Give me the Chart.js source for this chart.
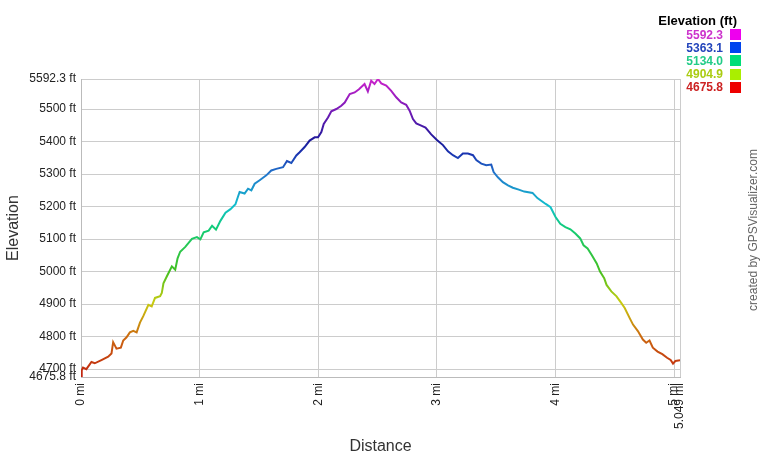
<!DOCTYPE html>
<html>
<head>
<meta charset="utf-8">
<script src="https://cdn.jsdelivr.net/npm/chart.js@4/dist/chart.umd.min.js"></script>
<style>
  body { margin: 0; background: #fff; }
  #wrap { position: relative; width: 760px; height: 460px; font-family: Arial, "Liberation Sans", sans-serif; }
  #chart { position: absolute; left: 0; top: 0; }
  #legend { position: absolute; right: 19px; top: 13px; text-align: right; }
  #legend .title { font: bold 13px Arial, "Liberation Sans", sans-serif; color: #000; line-height: 16px; padding-right: 4px; margin-bottom: -1px; }
  #legend .row { display: flex; justify-content: flex-end; align-items: center; height: 13.2px; font: bold 12px Arial, "Liberation Sans", sans-serif; }
  #legend .box { width: 11px; height: 11px; margin-left: 7px; }
  #credit { position: absolute; left: 653px; top: 223px; width: 200px; height: 14px; line-height: 14px; text-align: center;
            font: 12px Arial, "Liberation Sans", sans-serif; color: #666; transform: rotate(-90deg); white-space: nowrap; }
</style>
</head>
<body>
<div id="wrap">
  <canvas id="chart" width="760" height="460"></canvas>
  <div id="legend"></div>
  <div id="credit">created by GPSVisualizer.com</div>
</div>
<script>
// profile: distance in miles, elevation in feet
const distanceMi = [
  0, 0.006, 0.017, 0.045, 0.088, 0.116, 0.172, 0.229, 0.257, 0.271, 0.299, 0.336, 0.356, 0.384, 0.412,
  0.441, 0.469, 0.497, 0.525, 0.568, 0.596, 0.624, 0.667, 0.681, 0.695, 0.723, 0.766, 0.794, 0.814, 0.836,
  0.879, 0.935, 0.977, 1.006, 1.034, 1.076, 1.105, 1.138, 1.175, 1.218, 1.26, 1.302, 1.323,
  1.337, 1.379, 1.408, 1.436, 1.464, 1.506, 1.562, 1.604, 1.646, 1.703, 1.736, 1.773, 1.815, 1.843, 1.885,
  1.927, 1.97, 1.998, 2.026, 2.046, 2.082, 2.11, 2.152, 2.194, 2.223, 2.265, 2.307, 2.343,
  2.39, 2.418, 2.446, 2.474, 2.503, 2.531, 2.573, 2.615, 2.657, 2.699, 2.741, 2.77, 2.798, 2.826, 2.868,
  2.904, 2.952, 3.0, 3.051, 3.093, 3.135, 3.177, 3.219, 3.261, 3.304, 3.332, 3.374, 3.416, 3.458, 3.478,
  3.514, 3.556, 3.599, 3.64, 3.69,
  3.736, 3.806, 3.847, 3.917, 3.958, 4.0, 4.04, 4.083, 4.125, 4.167, 4.208, 4.236, 4.27, 4.305, 4.347,
  4.375, 4.41, 4.43, 4.47, 4.514, 4.555, 4.583, 4.625, 4.653, 4.694, 4.736, 4.764, 4.792, 4.82, 4.86,
  4.9, 4.94, 4.97, 4.99, 5.01, 5.049
];
const elevationFt = [
  4675.8, 4696, 4705, 4700, 4722, 4718, 4728, 4738, 4748, 4783, 4763, 4766, 4788, 4798, 4813,
  4818, 4813, 4843, 4863, 4898, 4893, 4919, 4924, 4934, 4964, 4985, 5016, 5006, 5041, 5061,
  5076, 5101, 5106, 5099, 5121, 5126, 5141, 5129, 5156, 5181, 5192, 5207, 5230,
  5245, 5240, 5255, 5250, 5270, 5281, 5296, 5311, 5316, 5321, 5340, 5334, 5357, 5367, 5383,
  5403, 5413, 5413, 5429, 5454, 5474, 5493, 5500, 5510, 5520, 5546, 5551, 5561,
  5577, 5554, 5587, 5577, 5592.3, 5579, 5572, 5556, 5536, 5520, 5513, 5495, 5469, 5456, 5449,
  5443, 5422, 5405, 5389, 5370, 5358, 5349, 5363, 5363, 5358, 5343, 5332, 5327, 5329, 5306,
  5290, 5275, 5265, 5258, 5252,
  5246, 5242, 5226, 5208, 5198, 5168, 5147, 5137, 5130, 5117, 5102, 5081, 5071, 5051, 5025,
  5000, 4980, 4959, 4939, 4924, 4903, 4888, 4857, 4837, 4817, 4791, 4781, 4788, 4766, 4754,
  4746, 4735, 4728, 4717, 4725, 4727
];

const xTicks = [0, 1, 2, 3, 4, 5, 5.049];
const yTicks = [4675.8, 4700, 4800, 4900, 5000, 5100, 5200, 5300, 5400, 5500, 5592.3];

const legendValues = [5592.3, 5363.1, 5134.0, 4904.9, 4675.8];
const legendTextColors = ['#cc33cc', '#2244bb', '#22cc88', '#aacc11', '#cc2222'];
const legendBoxColors = ['#ee00ee', '#0044ee', '#00dd77', '#aaee00', '#ee0000'];

// line colour follows elevation
const gradientElev = [4675.8, 4800, 4904.9, 5000, 5134.0, 5200, 5300, 5363.1, 5400, 5500, 5592.3];
const gradientColors = ['#c02010', '#cc6a10', '#c8cc10', '#44c020', '#11cc77', '#11c0cc',
                        '#2277cc', '#1a33b0', '#1a1a99', '#7a1ab8', '#cc22cc'];

const legendEl = document.getElementById('legend');
legendEl.innerHTML = '<div class="title">Elevation (ft)</div>' + legendValues.map((v, i) =>
  '<div class="row"><span style="color:' + legendTextColors[i] + '">' + v.toFixed(1) + '</span>' +
  '<span class="box" style="background:' + legendBoxColors[i] + '"></span></div>').join('');

function elevGradient(context) {
  const chart = context.chart;
  const y = chart.scales.y;
  if (!chart.chartArea || !y) return '#1a33b0';
  const g = chart.ctx.createLinearGradient(0, y.getPixelForValue(gradientElev[0]), 0,
                                           y.getPixelForValue(gradientElev[gradientElev.length - 1]));
  const span = gradientElev[gradientElev.length - 1] - gradientElev[0];
  gradientElev.forEach((e, i) => g.addColorStop((e - gradientElev[0]) / span, gradientColors[i]));
  return g;
}

const tickFont = { family: 'Arial, "Liberation Sans", sans-serif', size: 12 };
const titleFont = { family: 'Arial, "Liberation Sans", sans-serif', size: 16 };

new Chart(document.getElementById('chart'), {
  type: 'line',
  data: {
    datasets: [{
      data: distanceMi.map((d, i) => ({ x: d, y: elevationFt[i] })),
      borderColor: elevGradient,
      borderWidth: 2,
      pointRadius: 0,
      tension: 0,
      fill: false
    }]
  },
  options: {
    responsive: false,
    animation: false,
    layout: { padding: { left: 0, top: 79, right: 80, bottom: 0 } },
    plugins: { legend: { display: false }, tooltip: { enabled: false } },
    scales: {
      x: {
        type: 'linear',
        min: 0,
        max: 5.049,
        afterBuildTicks: s => { s.ticks = xTicks.map(v => ({ value: v })); },
        afterFit: s => { s.height = 83; },
        grid: { color: '#cccccc', drawTicks: false },
        border: { color: '#bbbbbb' },
        ticks: {
          autoSkip: false, minRotation: 90, maxRotation: 90, padding: 6,
          color: '#222', font: tickFont,
          callback: v => v + ' mi'
        },
        title: { display: true, text: 'Distance', color: '#333', font: titleFont, padding: { top: 0, bottom: 4 } }
      },
      y: {
        min: 4675.8,
        max: 5592.3,
        afterBuildTicks: s => { s.ticks = yTicks.map(v => ({ value: v })); },
        afterFit: s => { s.width = 81; },
        grid: { color: '#cccccc', drawTicks: false },
        border: { color: '#bbbbbb' },
        ticks: {
          autoSkip: false, padding: 5, color: '#222', font: tickFont,
          callback: v => v + ' ft'
        },
        title: { display: true, text: 'Elevation', color: '#333', font: titleFont, padding: { top: 4, bottom: 0 } }
      }
    }
  }
});
</script>
</body>
</html>
